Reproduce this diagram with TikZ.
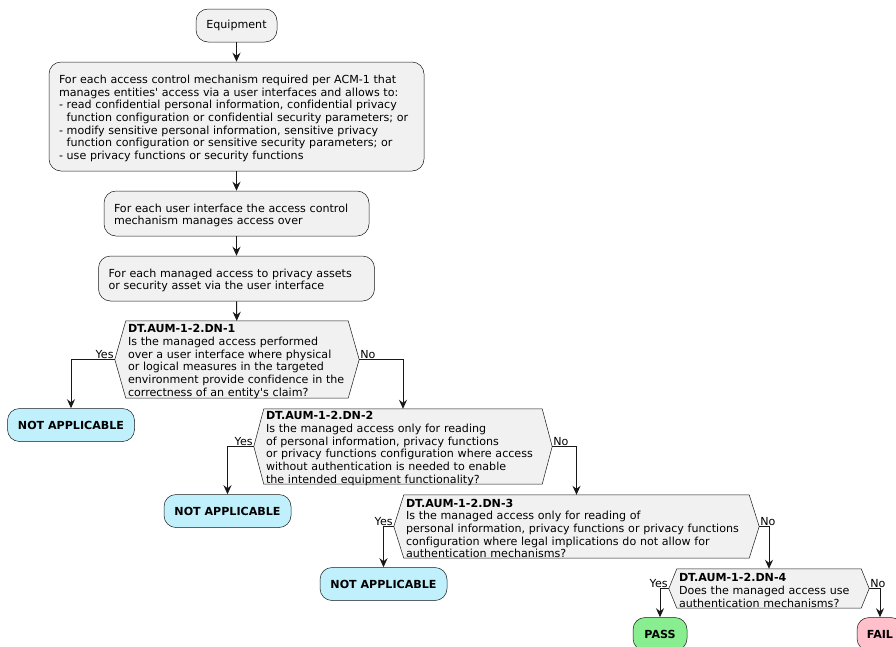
\documentclass[tikz,border=0pt]{standalone}
\usepackage{fontspec}
\newfontfamily\dejavu{DejaVu Sans}[Ligatures=NoCommon]
\usetikzlibrary{arrows.meta,backgrounds}

\definecolor{boxfill}{HTML}{F1F1F1}
\definecolor{ink}{HTML}{181818}
\definecolor{nafill}{HTML}{C0F0FC}
\definecolor{passfill}{HTML}{88EE90}
\definecolor{failfill}{HTML}{FFC0CB}

\newcommand{\bodyfont}{\dejavu\fontsize{11.1}{12.7}\selectfont}

\tikzset{
  every node/.style={font=\bodyfont},
  lowered/.style={execute at end node={\par\vspace*{-4pt}}},
  stepbox/.style={draw=ink, line width=0.5pt, fill=boxfill, rounded corners=12pt,
    align=left, inner xsep=10pt, inner ysep=0pt},
  endbox/.style={draw=ink, line width=0.5pt, rounded corners=12pt,
    font=\bodyfont\bfseries, minimum height=33pt, inner sep=0pt},
  hexnode/.style={align=left, inner xsep=2pt, inner ysep=0pt, lowered},
  hexline/.style={draw=ink, line width=0.5pt, fill=boxfill},
  flow/.style={draw=ink, line width=1pt, -{Stealth[length=9pt,width=8pt,inset=3pt]}},
  branch/.style={inner sep=1pt},
}

\begin{document}
\begin{tikzpicture}[x=1pt, y=-1pt]
\useasboundingbox (0,0) rectangle (896,646);

% activity steps
\node[stepbox, minimum width=81pt, minimum height=33pt, align=center, inner xsep=0pt]
  (eq) at (236.5,25.5) {Equipment};
\node[stepbox, lowered, text width=355pt, minimum height=109pt] (b1) at (236.5,116.5)
  {For each access control mechanism required per ACM-1 that\\
   manages entities' access via a user interfaces and allows to:\\
   - read confidential personal information, confidential privacy\\
   \phantom{- }function configuration or confidential security parameters; or\\
   - modify sensitive personal information, sensitive privacy\\
   \phantom{- }function configuration or sensitive security parameters; or\\
   - use privacy functions or security functions};
\node[stepbox, lowered, text width=245pt, minimum height=45pt] (b2) at (236.5,213.5)
  {For each user interface the access control\\
   mechanism manages access over};
\node[stepbox, lowered, text width=256pt, minimum height=45pt] (b3) at (236.5,278.5)
  {For each managed access to privacy assets\\
   or security asset via the user interface};

% decisions
\node[hexnode, text width=218pt, minimum height=77pt] (d1) at (237,359.5)
  {\textbf{DT.AUM-1-2.DN-1}\\
   Is the managed access performed\\
   over a user interface where physical\\
   or logical measures in the targeted\\
   environment provide confidence in the\\
   correctness of an entity's claim?};
\node[hexnode, text width=274pt, minimum height=75pt] (d2) at (403,446.5)
  {\textbf{DT.AUM-1-2.DN-2}\\
   Is the managed access only for reading\\
   of personal information, privacy functions\\
   or privacy functions configuration where access\\
   without authentication is needed to enable\\
   the intended equipment functionality?};
\node[hexnode, text width=341pt, minimum height=63pt] (d3) at (576.5,526.5)
  {\textbf{DT.AUM-1-2.DN-3}\\
   Is the managed access only for reading of\\
   personal information, privacy functions or privacy functions\\
   configuration where legal implications do not allow for\\
   authentication mechanisms?};
\node[hexnode, text width=180pt, minimum height=39pt] (d4) at (769,588.5)
  {\textbf{DT.AUM-1-2.DN-4}\\
   Does the managed access use\\
   authentication mechanisms?};

\begin{scope}[on background layer]
  \foreach \n/\e in {d1/11,d2/10,d3/10,d4/8}{
    \draw[hexline] (\n.north west) -- (\n.north east) -- ([xshift=\e pt]\n.east)
      -- (\n.south east) -- (\n.south west) -- ([xshift=-\e pt]\n.west) -- cycle;
    \coordinate (\n L) at ([xshift=-\e pt]\n.west);
    \coordinate (\n R) at ([xshift=\e pt]\n.east);
  }
\end{scope}

% outcomes
\node[endbox, fill=nafill, minimum width=127pt] (na1) at (71,425) {NOT APPLICABLE};
\node[endbox, fill=nafill, minimum width=127pt] (na2) at (227.5,511) {NOT APPLICABLE};
\node[endbox, fill=nafill, minimum width=127pt] (na3) at (383.5,584) {NOT APPLICABLE};
\node[endbox, fill=passfill, minimum width=54pt] (pass) at (660,634) {PASS};
\node[endbox, fill=failfill, minimum width=46pt] (fail) at (880,634) {FAIL};

% flow
\draw[flow] (eq) -- (b1);
\draw[flow] (b1) -- (b2);
\draw[flow] (b2) -- (b3);
\draw[flow] (b3) -- (d1);

\draw[flow] (d1L) -| (na1);
\draw[flow] (d1R) -| (d2);
\draw[flow] (d2L) -| (na2);
\draw[flow] (d2R) -| (d3);
\draw[flow] (d3L) -| (na3);
\draw[flow] (d3R) -| (d4);
\draw[flow] (d4L) -| (pass);
\draw[flow] (d4R) -| (fail);

% branch labels
\foreach \n in {d1,d2,d3,d4}{
  \node[branch, anchor=south east] (\n yes) at (\n L) {Yes};
  \node[branch, anchor=south west] (\n no) at (\n R) {No};
}
\end{tikzpicture}
\end{document}
